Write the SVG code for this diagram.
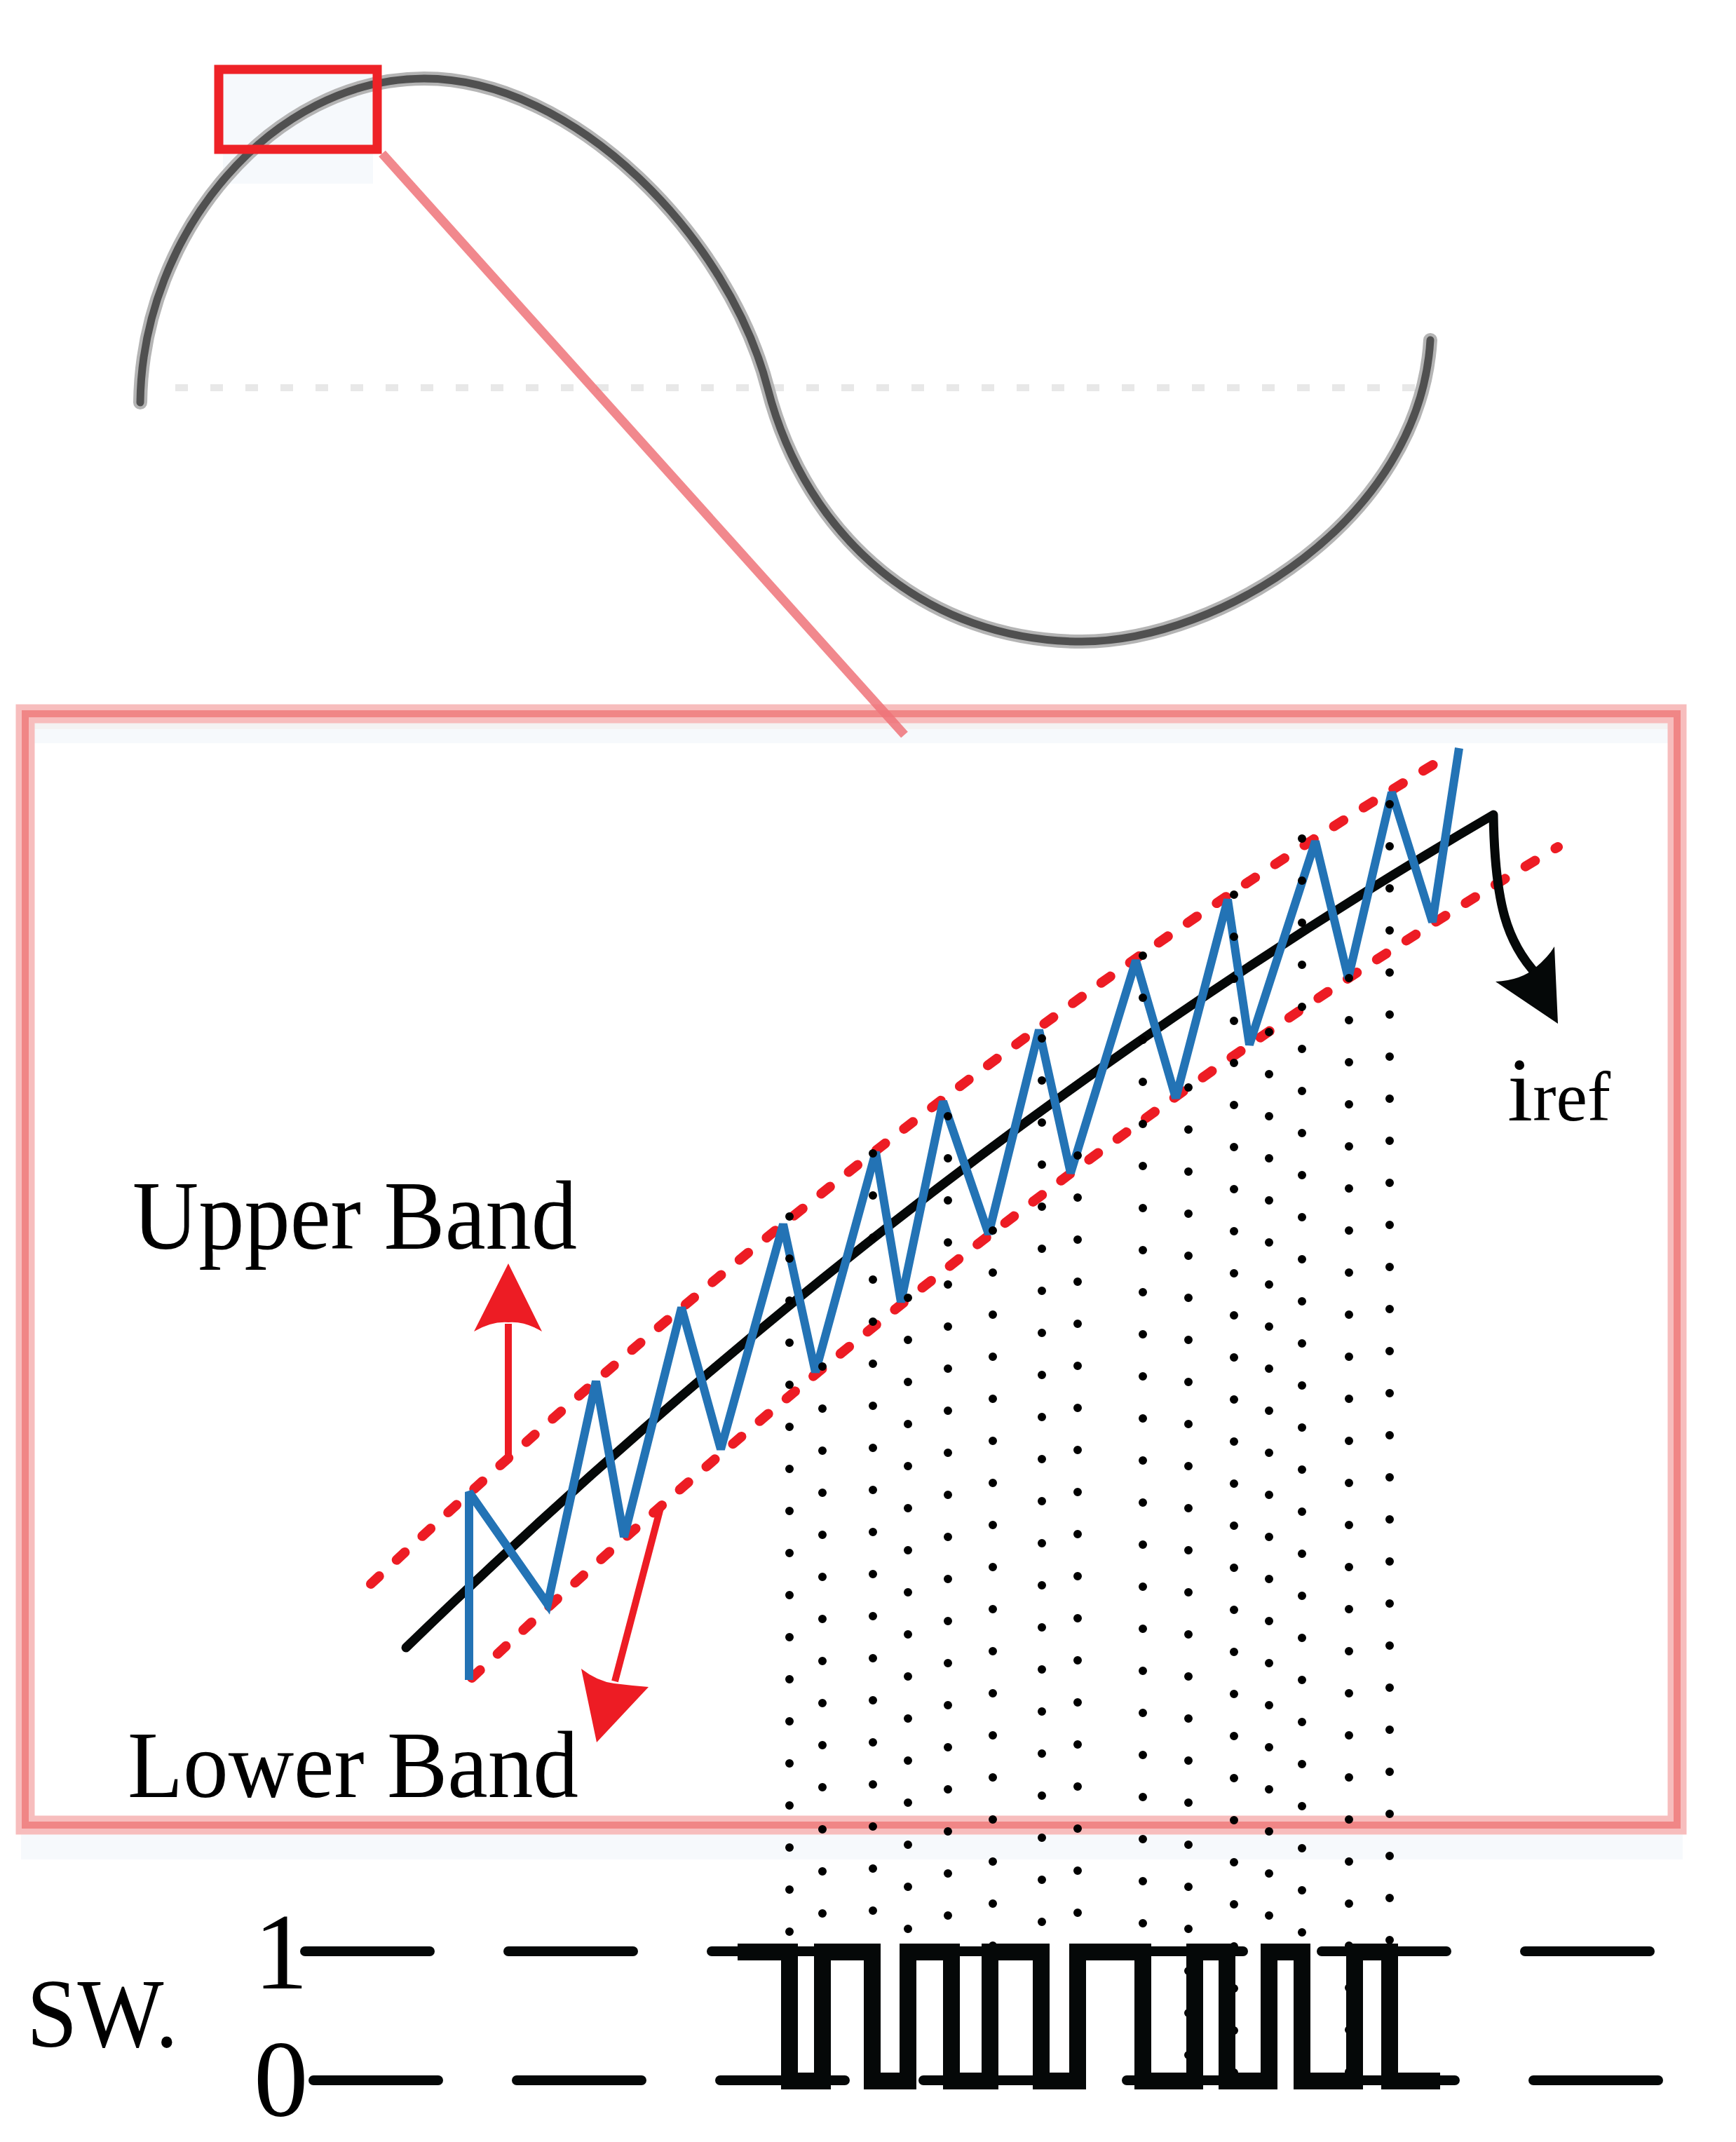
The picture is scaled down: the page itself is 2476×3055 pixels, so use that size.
<svg xmlns="http://www.w3.org/2000/svg" width="2476" height="3055" viewBox="0 0 2476 3055">
<style>
.lbl{font-family:"Liberation Serif","Times New Roman",serif;fill:#000}
.band{fill:none;stroke:#ED1C24;stroke-width:14;stroke-linecap:round;stroke-dasharray:16 34}
.dots{fill:none;stroke:#000;stroke-width:12;stroke-linecap:round;stroke-dasharray:0 60}
.axis{fill:none;stroke:#050808;stroke-width:14;stroke-linecap:round;stroke-dasharray:178 112}
.redarrow{fill:#ED1C24}
</style>
<rect width="2476" height="3055" fill="#fff"/>

<g id="detail-frame">
  <rect x="45" y="1032" width="2338" height="28" fill="#f6f9fc"/>
  <rect x="45" y="1030" width="2338" height="10" fill="#f4f2f2"/>
  <rect x="30" y="2612" width="2370" height="40" fill="#f6f9fc"/>
  <rect x="36" y="1018" width="2356" height="1585" fill="none" stroke="#f7bdbd" stroke-width="27"/>
  <rect x="36" y="1018" width="2356" height="1585" fill="none" stroke="#f08686" stroke-width="10"/>
</g>

<g id="sine-overview">
  <path d="M318,105 H532 V262 H318 Z" fill="#f6f9fc"/>
  <path d="M250,553 H2050" fill="none" stroke="#e8e8e8" stroke-width="10" stroke-dasharray="18 32"/>
  <path d="M200,574 C203,330 390,112 605,112 C820,112 1040,340 1095,554 C1150,768 1323,915 1543,915 C1740,915 2025,740 2040,485" fill="none" stroke="#b4b4b4" stroke-width="20" stroke-linecap="round"/>
  <path d="M200,574 C203,330 390,112 605,112 C820,112 1040,340 1095,554 C1150,768 1323,915 1543,915 C1740,915 2025,740 2040,485" fill="none" stroke="#505050" stroke-width="11" stroke-linecap="round"/>
</g>

<g id="zoom-box">
  <rect x="312" y="99" width="226" height="114" fill="none" stroke="#EE2227" stroke-width="13"/>
</g>

<g id="connectors">
  <path id="zoom-link" d="M545,219 L1290,1048" fill="none" stroke="#ef7379" stroke-width="13" opacity="0.85"/>
  <path id="up-arrow-shaft" d="M725,2084 V1888" fill="none" stroke="#ED1C24" stroke-width="10"/>
  <path id="up-arrow-head" class="redarrow" d="M725,1802 L773,1899 Q748,1884 725,1886 Q702,1884 676,1899 Z"/>
  <path id="down-arrow-shaft" d="M943,2147 L877,2398" fill="none" stroke="#ED1C24" stroke-width="10"/>
  <path id="down-arrow-head" class="redarrow" d="M851,2485 L829,2380 Q852,2398 876,2401 Q900,2404 925,2406 Z"/>
</g>

<g id="bands">
  <path id="upper-band" class="band" d="M529,2259 Q1300,1537 2070,1075"/>
  <path id="lower-band" class="band" d="M673,2393 Q1444,1669.5 2222,1208"/>
</g>

<g id="iref-curve">
  <path d="M579,2350 Q1309,1642 2130,1162 C2132,1290 2150,1345 2192,1390" fill="none" stroke="#050808" stroke-width="13" stroke-linecap="round" stroke-linejoin="round"/>
  <path d="M2222,1460 L2133,1400 Q2170,1398 2190,1380 Q2208,1365 2217,1350 Z" fill="#050808"/>
</g>

<g id="actual-current">
  <polyline points="669,2396 669,2128 781,2288 850,1970 890,2192 972,1865 1028,2067 1117,1746 1163,1957 1249,1643 1285,1857 1345,1571 1410,1760 1482,1469 1527,1673 1620,1370 1677,1566 1751,1283 1782,1490 1876,1200 1923,1395 1985,1130 2043,1315 2081,1067" fill="none" stroke="#2373B5" stroke-width="12" stroke-linejoin="miter" stroke-miterlimit="3"/>
</g>

<g id="projections">
  <path class="dots" d="M1126,1735 V2960"/>
  <path class="dots" d="M1173,1949 V2960"/>
  <path class="dots" d="M1245,1645 V2960"/>
  <path class="dots" d="M1295,1851 V2960"/>
  <path class="dots" d="M1352,1592 V2960"/>
  <path class="dots" d="M1416,1755 V2960"/>
  <path class="dots" d="M1486,1481 V2960"/>
  <path class="dots" d="M1537,1648 V2960"/>
  <path class="dots" d="M1630,1363 V2960"/>
  <path class="dots" d="M1695,1551 V2960"/>
  <path class="dots" d="M1760,1276 V2960"/>
  <path class="dots" d="M1810,1472 V2960"/>
  <path class="dots" d="M1857,1196 V2960"/>
  <path class="dots" d="M1924,1395 V2960"/>
  <path class="dots" d="M1982,1147 V2960"/>
</g>

<g id="labels">
  <text class="lbl" x="189" y="1781" font-size="140" textLength="634" lengthAdjust="spacingAndGlyphs">Upper Band</text>
  <text class="lbl" x="182" y="2563" font-size="136" textLength="643" lengthAdjust="spacingAndGlyphs">Lower Band</text>
  <text class="lbl" x="2150" y="1598"><tspan font-size="130">i</tspan><tspan font-size="100">ref</tspan></text>
  <text class="lbl" x="38" y="2919" font-size="140" textLength="216" lengthAdjust="spacingAndGlyphs">SW.</text>
  <text class="lbl" x="362" y="2836" font-size="155">1</text>
  <text class="lbl" x="362" y="3017" font-size="155">0</text>
</g>

<g id="switching-signal">
  <path class="axis" d="M435,2783 H2353"/>
  <path class="axis" d="M447,2967 H2365"/>
  <path d="M1052,2784 H1126 V2968 H1173 V2784 H1244 V2968 H1295 V2784 H1357 V2968 H1412 V2784 H1485 V2968 H1537 V2784 H1630 V2968 H1704 V2784 H1750 V2968 H1810 V2784 H1857 V2968 H1932 V2784 H1982 V2968 H2054" fill="none" stroke="#050808" stroke-width="24" stroke-linejoin="miter"/>
</g>
</svg>
